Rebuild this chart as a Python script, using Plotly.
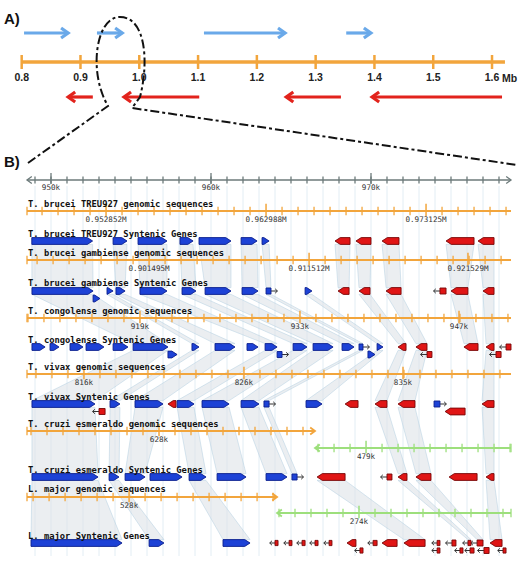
import plotly.graph_objects as go

# ================= DATA =================
# ---- Panel A (Mb) ----
a_tick_vals = [0.8, 0.9, 1.0, 1.1, 1.2, 1.3, 1.4, 1.5, 1.6]
a_tick_text = ["0.8", "0.9", "1.0", "1.1", "1.2", "1.3", "1.4", "1.5", "1.6"]
a_unit = "Mb"
a_axis_end = 1.622
fwd_tail = [0.804, 0.928, 1.110, 1.352]
fwd_head = [0.879, 0.971, 1.248, 1.394]
rev_tail = [0.921, 1.102, 1.343, 1.617]
rev_head = [0.879, 0.974, 1.250, 1.396]

# ---- Panel B ruler (kb, T. brucei TREU927 coordinates) ----
ruler_major = [950, 960, 970]
ruler_labels = ["950k", "960k", "970k"]
ruler_extent = [948.5, 978.75]

# genomic sequence tick labels (position on ruler kb, label)
seq_927_major = [953.44, 963.44, 973.44]
seq_927_labels = ["0.952852M", "0.962988M", "0.973125M"]
seq_gam_major = [956.13, 966.13, 976.06]
seq_gam_labels = ["0.901495M", "0.911512M", "0.921529M"]
seq_con_major = [955.56, 965.56, 975.50]
seq_con_labels = ["919k", "933k", "947k"]
seq_viv_major = [952.06, 962.06, 972.00]
seq_viv_labels = ["816k", "826k", "835k"]
seq_cru_major_fwd = [956.75]
seq_cru_labels_fwd = ["628k"]
seq_cru_major_rev = [969.69]
seq_cru_labels_rev = ["479k"]
seq_maj_major_fwd = [954.88]
seq_maj_labels_fwd = ["528k"]
seq_maj_major_rev = [969.25]
seq_maj_labels_rev = ["274k"]
cru_break = 966.5
maj_break = 964.13

# genes: (start_kb, end_kb, strand, kind, row)   kind: g=gene, m=small box, t=tiny
genes_927 = [
    (948.80, 952.60, 1, "g", 0), (953.88, 954.75, 1, "g", 0), (955.44, 957.25, 1, "g", 0),
    (958.06, 958.88, 1, "g", 0), (959.25, 961.25, 1, "g", 0), (961.88, 962.88, 1, "g", 0),
    (963.19, 963.63, 1, "g", 0),
    (967.75, 968.69, -1, "g", 0), (969.06, 970.00, -1, "g", 0), (970.69, 971.75, -1, "g", 0),
    (974.69, 976.44, -1, "g", 0), (976.69, 977.69, -1, "g", 0),
]
genes_gam = [
    (948.81, 952.63, 1, "g", 0), (952.63, 953.06, 1, "g", 1), (953.50, 953.88, 1, "g", 0),
    (954.06, 954.63, 1, "g", 0), (955.56, 957.25, 1, "g", 0), (958.19, 959.06, 1, "g", 0),
    (959.63, 961.25, 1, "g", 0), (961.94, 962.94, 1, "g", 0), (963.44, 963.75, 1, "m", 0),
    (965.88, 966.31, 1, "g", 0),
    (967.94, 968.63, -1, "g", 0), (969.25, 969.94, -1, "g", 0), (970.94, 971.88, -1, "g", 0),
    (974.31, 974.69, -1, "m", 0), (975.00, 976.06, -1, "g", 0), (977.00, 977.69, -1, "g", 0),
]
genes_con = [
    (948.81, 949.63, 1, "g", 0), (949.94, 950.50, 1, "g", 0), (951.19, 952.00, 1, "g", 0),
    (952.19, 953.31, 1, "g", 0), (953.88, 954.81, 1, "g", 0), (955.13, 957.31, 1, "g", 0),
    (957.31, 957.88, 1, "g", 1), (958.81, 959.25, 1, "g", 0), (960.25, 961.50, 1, "g", 0),
    (962.25, 962.94, 1, "g", 0), (963.38, 964.13, 1, "g", 0), (964.13, 964.44, 1, "m", 1),
    (965.13, 966.00, 1, "g", 0), (966.38, 967.63, 1, "g", 0), (968.19, 968.94, 1, "g", 0),
    (969.25, 969.50, 1, "m", 0), (969.81, 970.25, 1, "g", 1), (970.38, 970.75, 1, "g", 0),
    (971.69, 972.19, -1, "g", 0), (972.81, 973.50, -1, "g", 0), (973.50, 973.81, -1, "m", 1),
    (975.81, 976.69, -1, "g", 0), (977.19, 977.69, -1, "g", 0), (977.81, 978.13, -1, "m", 1),
    (978.44, 978.75, -1, "m", 0),
]
genes_viv = [
    (948.81, 952.75, 1, "g", 0), (953.00, 953.38, -1, "m", 1), (953.69, 954.31, 1, "g", 0),
    (955.25, 957.00, 1, "g", 0), (957.31, 957.81, -1, "g", 0), (957.88, 958.94, 1, "g", 0),
    (959.44, 961.13, 1, "g", 0), (961.88, 963.00, 1, "g", 0), (963.31, 963.63, 1, "m", 0),
    (965.94, 966.94, 1, "g", 0),
    (968.38, 969.19, -1, "g", 0), (970.25, 971.00, -1, "g", 0), (971.69, 972.75, -1, "g", 0),
    (973.94, 974.31, 1, "m", 0), (974.63, 975.88, -1, "g", 1), (976.94, 977.69, -1, "g", 0),
]
genes_cru = [
    (948.81, 952.94, 1, "g", 0), (953.63, 954.25, 1, "g", 0), (954.63, 955.88, 1, "g", 0),
    (956.19, 958.19, 1, "g", 0), (958.63, 959.69, 1, "g", 0), (960.38, 962.19, 1, "g", 0),
    (963.44, 964.75, 1, "g", 0), (965.06, 965.38, 1, "m", 0),
    (966.63, 968.38, -1, "g", 0), (971.00, 971.31, -1, "m", 0), (971.69, 972.25, -1, "g", 0),
    (972.81, 973.75, -1, "g", 0), (974.88, 976.63, -1, "g", 0), (977.19, 977.69, -1, "g", 0),
]
genes_maj = [
    (948.75, 954.44, 1, "g", 0), (956.13, 957.06, 1, "g", 0), (960.75, 962.44, 1, "g", 0),
    (964.00, 964.19, -1, "t", 0), (964.88, 965.06, -1, "t", 0), (965.69, 965.88, -1, "t", 0),
    (966.50, 966.69, -1, "t", 0), (967.38, 967.56, -1, "t", 0), (968.50, 969.06, -1, "g", 0),
    (969.31, 969.50, -1, "t", 1), (970.13, 970.38, -1, "t", 0), (970.69, 971.63, -1, "g", 0),
    (972.06, 973.38, -1, "g", 0), (974.13, 974.31, -1, "t", 0), (974.13, 974.31, -1, "t", 1),
    (975.06, 975.31, -1, "m", 0), (975.56, 975.75, -1, "t", 1), (976.06, 976.25, -1, "t", 0),
    (976.19, 976.44, -1, "t", 1), (976.63, 977.00, -1, "m", 0), (977.06, 977.38, -1, "m", 1),
    (977.44, 978.19, -1, "g", 0), (978.25, 978.44, -1, "t", 1),
]

# synteny links between consecutive gene tracks: (start1, end1, start2, end2)
links_927_gam = [
    (948.80, 952.60, 948.81, 952.63), (953.88, 954.75, 954.06, 954.63), (955.44, 957.25, 955.56, 957.25),
    (958.06, 958.88, 958.19, 959.06), (959.25, 961.25, 959.63, 961.25), (961.88, 962.88, 961.94, 962.94),
    (963.19, 963.63, 963.44, 963.75), (967.75, 968.69, 967.94, 968.63), (969.06, 970.00, 969.25, 969.94),
    (970.69, 971.75, 970.94, 971.88), (974.69, 976.44, 975.00, 976.06), (976.69, 977.69, 977.00, 977.69),
]
links_gam_con = [
    (948.81, 952.63, 955.13, 957.31), (953.50, 953.88, 958.81, 959.25), (954.06, 954.63, 960.25, 961.50),
    (955.56, 957.25, 963.38, 964.13), (958.19, 959.06, 965.13, 966.00), (959.63, 961.25, 966.38, 967.63),
    (961.94, 962.94, 968.19, 968.94), (963.44, 963.75, 969.25, 969.50), (965.88, 966.31, 970.38, 970.75),
    (969.25, 969.94, 971.69, 972.19), (970.94, 971.88, 972.81, 973.50), (975.00, 976.06, 975.81, 976.69),
    (977.00, 977.69, 977.19, 977.69),
]
links_con_viv = [
    (955.13, 957.31, 948.81, 952.75), (958.81, 959.25, 953.69, 954.31), (960.25, 961.50, 955.25, 957.00),
    (963.38, 964.13, 957.88, 958.94), (965.13, 966.00, 959.44, 961.13), (966.38, 967.63, 961.88, 963.00),
    (969.25, 969.50, 963.31, 963.63), (970.38, 970.75, 965.94, 966.94), (971.69, 972.19, 970.25, 971.00),
    (972.81, 973.50, 971.69, 972.75), (977.19, 977.69, 976.94, 977.69),
]
links_viv_cru = [
    (948.81, 952.75, 948.81, 952.94), (953.69, 954.31, 953.63, 954.25), (955.25, 957.00, 954.63, 955.88),
    (957.88, 958.94, 958.63, 959.69), (959.44, 961.13, 960.38, 962.19), (961.88, 963.00, 963.44, 964.75),
    (963.31, 963.63, 965.06, 965.38), (970.25, 971.00, 971.69, 972.25), (971.69, 972.75, 972.81, 973.75),
    (976.94, 977.69, 977.19, 977.69),
]
links_cru_maj = [
    (948.81, 952.94, 948.75, 954.44), (953.63, 954.25, 956.13, 957.06), (958.63, 959.69, 960.75, 962.44),
    (966.63, 968.38, 972.06, 973.38), (971.69, 972.25, 976.06, 976.25), (972.81, 973.75, 976.63, 977.00),
    (977.19, 977.69, 977.44, 978.19),
]

# ================= STYLE / LAYOUT =================
W, H = 529, 566
ORANGE = "#f2a53c"
GREEN = "#9ddf7c"
BLUE_ARROW = "#6aa9e9"
RED_ARROW = "#e2231c"
GENE_BLUE = "#1d42d6"
GENE_BLUE_EDGE = "#0c1f8c"
GENE_RED = "#e01515"
GENE_RED_EDGE = "#760808"
RULER = "#6c7a7a"
GRID = "#e2edf4"
BAND_FILL = "rgba(222,227,231,0.6)"
BAND_EDGE = "rgba(175,204,224,0.6)"
MONO = "DejaVu Sans Mono"

tracks = [
    dict(seq_label="T. brucei TREU927 genomic sequences", seq_label_y=204, seq_y=211,
         segs=[(ruler_extent[0], ruler_extent[1], ORANGE, 0, seq_927_major, seq_927_labels)],
         gene_label="T. brucei TREU927 Syntenic Genes", gene_label_y=234, gene_y=241, genes=genes_927),
    dict(seq_label="T. brucei gambiense genomic sequences", seq_label_y=253, seq_y=260,
         segs=[(ruler_extent[0], ruler_extent[1], ORANGE, 0, seq_gam_major, seq_gam_labels)],
         gene_label="T. brucei gambiense Syntenic Genes", gene_label_y=283, gene_y=291, genes=genes_gam),
    dict(seq_label="T. congolense genomic sequences", seq_label_y=311, seq_y=318,
         segs=[(ruler_extent[0], ruler_extent[1], ORANGE, 0, seq_con_major, seq_con_labels)],
         gene_label="T. congolense Syntenic Genes", gene_label_y=340, gene_y=347, genes=genes_con),
    dict(seq_label="T. vivax genomic sequences", seq_label_y=367, seq_y=374,
         segs=[(ruler_extent[0], ruler_extent[1], ORANGE, 0, seq_viv_major, seq_viv_labels)],
         gene_label="T. vivax Syntenic Genes", gene_label_y=397, gene_y=404, genes=genes_viv),
    dict(seq_label="T. cruzi esmeraldo genomic sequences", seq_label_y=424, seq_y=431,
         segs=[(ruler_extent[0], cru_break, ORANGE, 1, seq_cru_major_fwd, seq_cru_labels_fwd),
               (cru_break, ruler_extent[1], GREEN, -1, seq_cru_major_rev, seq_cru_labels_rev)],
         seg_dy=[0, 17],
         gene_label="T. cruzi esmeraldo Syntenic Genes", gene_label_y=470, gene_y=477, genes=genes_cru),
    dict(seq_label="L. major genomic sequences", seq_label_y=489, seq_y=497,
         segs=[(ruler_extent[0], maj_break, ORANGE, 1, seq_maj_major_fwd, seq_maj_labels_fwd),
               (maj_break, ruler_extent[1], GREEN, -1, seq_maj_major_rev, seq_maj_labels_rev)],
         seg_dy=[0, 16],
         gene_label="L. major Syntenic Genes", gene_label_y=536, gene_y=543, genes=genes_maj),
]
all_links = [links_927_gam, links_gam_con, links_con_viv, links_viv_cru, links_cru_maj]

fig = go.Figure()
XA = dict(xaxis="x", yaxis="y", hoverinfo="skip", showlegend=False, cliponaxis=False)
XB = dict(xaxis="x2", yaxis="y", hoverinfo="skip", showlegend=False, cliponaxis=False)

# ================= PANEL A =================
YA_FWD, YA_AXIS, YA_LAB, YA_REV = 33, 62, 78, 97
fig.add_trace(go.Scatter(x=[a_tick_vals[0], a_axis_end], y=[YA_AXIS, YA_AXIS], mode="lines",
                         line=dict(color=ORANGE, width=3.5), **XA))
fig.add_trace(go.Scatter(x=a_tick_vals, y=[YA_AXIS] * len(a_tick_vals), mode="markers",
                         marker=dict(symbol="line-ns", size=10, line=dict(color=ORANGE, width=2.5)), **XA))
fig.add_trace(go.Scatter(x=a_tick_vals, y=[YA_LAB] * len(a_tick_vals), mode="text",
                         text=["<b>" + t + "</b>" for t in a_tick_text],
                         textfont=dict(family="Liberation Sans", size=10.5, color="#222"), **XA))
fig.add_annotation(x=a_tick_vals[-1], y=YA_LAB, xref="x", yref="y", text="<b>" + a_unit + "</b>",
                   showarrow=False, xanchor="left", xshift=8, yanchor="middle",
                   font=dict(family="Liberation Sans", size=10.5, color="#222"))

HEAD_DX, HEAD_DY = 0.012, 5


def add_arrows(tails, heads, y, color):
    xs, ys = [], []
    for t, h in zip(tails, heads):
        d = 1 if h > t else -1
        xs += [t, h, None, h - d * HEAD_DX, h, h - d * HEAD_DX, None]
        ys += [y, y, None, y - HEAD_DY, y, y + HEAD_DY, None]
    fig.add_trace(go.Scatter(x=xs, y=ys, mode="lines", line=dict(color=color, width=3.2), **XA))


add_arrows(fwd_tail, fwd_head, YA_FWD, BLUE_ARROW)
add_arrows(rev_tail, rev_head, YA_REV, RED_ARROW)

# panel letters
fig.add_annotation(x=2 / W, y=18, xref="paper", yref="y", text="<b>A)</b>", showarrow=False,
                   xanchor="left", yanchor="middle", font=dict(family="Liberation Sans", size=15, color="#111"))
fig.add_annotation(x=2 / W, y=161, xref="paper", yref="y", text="<b>B)</b>", showarrow=False,
                   xanchor="left", yanchor="middle", font=dict(family="Liberation Sans", size=15, color="#111"))


# zoom loop (decorative dash-dot)
def P(px):
    return px / W


loop_path = (f"M {P(28)},163 L {P(108)},106 C {P(88)},72 {P(96)},18 {P(119)},17 "
             f"C {P(146)},16 {P(149)},62 {P(140)},97 L {P(132)},108 L {P(517)},165")
fig.add_shape(type="path", path=loop_path, xref="paper", yref="y",
              line=dict(color="#111", width=2, dash="dashdot"))

# ================= PANEL B =================
GRID_TOP, GRID_BOT = 186, 556
RULER_Y = 180

# vertical light grid every kb
gx, gy = [], []
k = int(ruler_extent[0]) + 1
while k <= ruler_extent[1]:
    gx += [k, k, None]
    gy += [GRID_TOP, GRID_BOT, None]
    k += 1
fig.add_trace(go.Scatter(x=gx, y=gy, mode="lines", line=dict(color=GRID, width=1), **XB))

# synteny bands
GH = 3.4
bx, by = [], []
for i, links in enumerate(all_links):
    y1 = tracks[i]["gene_y"] + GH
    y2 = tracks[i + 1]["gene_y"] - GH
    for s1, e1, s2, e2 in links:
        bx += [s1, e1, e2, s2, s1, None]
        by += [y1, y1, y2, y2, y1, None]
fig.add_trace(go.Scatter(x=bx, y=by, mode="lines", fill="toself", fillcolor=BAND_FILL,
                         line=dict(color=BAND_EDGE, width=0.8), **XB))

# ruler
fig.add_trace(go.Scatter(x=ruler_extent, y=[RULER_Y, RULER_Y], mode="lines",
                         line=dict(color=RULER, width=1.6), **XB))
rt = list(range(int(ruler_extent[0]) + 1, int(ruler_extent[1]) + 1))
fig.add_trace(go.Scatter(x=rt, y=[RULER_Y] * len(rt), mode="markers",
                         marker=dict(symbol="line-ns", size=5, line=dict(color=RULER, width=1.3)), **XB))
fig.add_trace(go.Scatter(x=ruler_major, y=[RULER_Y - 1.5] * len(ruler_major), mode="markers",
                         marker=dict(symbol="line-ns", size=8, line=dict(color=RULER, width=1.3)), **XB))
CH_DX, CH_DY = 0.3, 3.5
fig.add_trace(go.Scatter(
    x=[ruler_extent[0] + CH_DX, ruler_extent[0], ruler_extent[0] + CH_DX, None,
       ruler_extent[1] - CH_DX, ruler_extent[1], ruler_extent[1] - CH_DX],
    y=[RULER_Y - CH_DY, RULER_Y, RULER_Y + CH_DY, None, RULER_Y - CH_DY, RULER_Y, RULER_Y + CH_DY],
    mode="lines", line=dict(color=RULER, width=1.3), **XB))
fig.add_trace(go.Scatter(x=ruler_major, y=[RULER_Y + 8] * len(ruler_major), mode="text", text=ruler_labels,
                         textfont=dict(family=MONO, size=7.6, color="#333"), **XB))

# genomic sequence lines
for tr in tracks:
    dys = tr.get("seg_dy", [0] * len(tr["segs"]))
    for (lo, hi, col, arrow, majors, labels), dy in zip(tr["segs"], dys):
        y = tr["seq_y"] + dy
        fig.add_trace(go.Scatter(x=[lo, hi], y=[y, y], mode="lines", line=dict(color=col, width=2), **XB))
        minors = []
        m = majors[0]
        while m - 1 >= lo + 0.05:
            m -= 1
        while m <= hi - 0.05:
            if all(abs(m - mj) > 0.01 for mj in majors):
                minors.append(m)
            m += 1
        fig.add_trace(go.Scatter(x=minors, y=[y] * len(minors), mode="markers",
                                 marker=dict(symbol="line-ns", size=6, line=dict(color=col, width=1.3)), **XB))
        fig.add_trace(go.Scatter(x=majors, y=[y - 1] * len(majors), mode="markers",
                                 marker=dict(symbol="line-ns", size=9, line=dict(color=col, width=1.5)), **XB))
        if arrow == 0:
            fig.add_trace(go.Scatter(x=[lo], y=[y], mode="markers",
                                     marker=dict(symbol="line-ns", size=6, line=dict(color=col, width=1.3)), **XB))
        else:
            tip = hi if arrow > 0 else lo
            fig.add_trace(go.Scatter(x=[tip - arrow * CH_DX, tip, tip - arrow * CH_DX],
                                     y=[y - CH_DY, y, y + CH_DY], mode="lines",
                                     line=dict(color=col, width=1.8), **XB))
            base = lo if arrow > 0 else hi
            fig.add_trace(go.Scatter(x=[base], y=[y], mode="markers",
                                     marker=dict(symbol="line-ns", size=6, line=dict(color=col, width=1.3)), **XB))
        fig.add_trace(go.Scatter(x=majors, y=[y + 9] * len(majors), mode="text", text=labels,
                                 textfont=dict(family=MONO, size=7.6, color="#333"), **XB))

# genes
HEAD = 0.33
ROW_DY = 7.5
polys = {1: ([], []), -1: ([], [])}
boxes = {1: ([], []), -1: ([], [])}
arrows_x, arrows_y = [], []
for tr in tracks:
    for s, e, strand, kind, row in tr["genes"]:
        y = tr["gene_y"] + row * ROW_DY
        px, py = polys[strand]
        if kind == "g":
            hd = min(HEAD, e - s)
            if strand > 0:
                px += [s, e - hd, e, e - hd, s, s, None]
            else:
                px += [e, s + hd, s, s + hd, e, e, None]
            py += [y - GH, y - GH, y, y + GH, y + GH, y - GH, None]
        else:
            hh = 3.0 if kind == "m" else 2.6
            qx, qy = boxes[strand]
            qx += [s, e, e, s, s, None]
            qy += [y - hh, y - hh, y + hh, y + hh, y - hh, None]
            ln = 0.4 if kind == "m" else 0.33
            start = e if strand > 0 else s
            tip = start + strand * ln
            arrows_x += [start, tip, None, tip - strand * 0.14, tip, tip - strand * 0.14, None]
            arrows_y += [y, y, None, y - 2.2, y, y + 2.2, None]

fig.add_trace(go.Scatter(x=arrows_x, y=arrows_y, mode="lines", line=dict(color="#333", width=1), **XB))
for strand, fillc, edge in [(1, GENE_BLUE, GENE_BLUE_EDGE), (-1, GENE_RED, GENE_RED_EDGE)]:
    px, py = polys[strand]
    fig.add_trace(go.Scatter(x=px, y=py, mode="lines", fill="toself", fillcolor=fillc,
                             line=dict(color=edge, width=0.9), **XB))
    qx, qy = boxes[strand]
    fig.add_trace(go.Scatter(x=qx, y=qy, mode="lines", fill="toself", fillcolor=fillc,
                             line=dict(color=edge, width=0.9), **XB))

# track labels
for tr in tracks:
    for txt, yy in [(tr["seq_label"], tr["seq_label_y"]), (tr["gene_label"], tr["gene_label_y"])]:
        fig.add_annotation(x=26 / W, y=yy, xref="paper", yref="y", text="<b>" + txt + "</b>",
                           showarrow=False, xanchor="left", yanchor="middle",
                           font=dict(family=MONO, size=8.8, color="#111"))

fig.update_layout(
    width=W, height=H, margin=dict(l=0, r=0, t=0, b=0),
    paper_bgcolor="white", plot_bgcolor="white", showlegend=False,
    xaxis=dict(range=[0.7631, 1.6629], visible=False, domain=[0, 1], fixedrange=True),
    xaxis2=dict(range=[946.8125, 979.875], visible=False, overlaying="x", anchor="y", fixedrange=True),
    yaxis=dict(range=[H, 0], visible=False, domain=[0, 1], fixedrange=True),
)

fig.write_html("out.html", config=dict(displayModeBar=False),
               post_script="document.body.style.margin='0';")
